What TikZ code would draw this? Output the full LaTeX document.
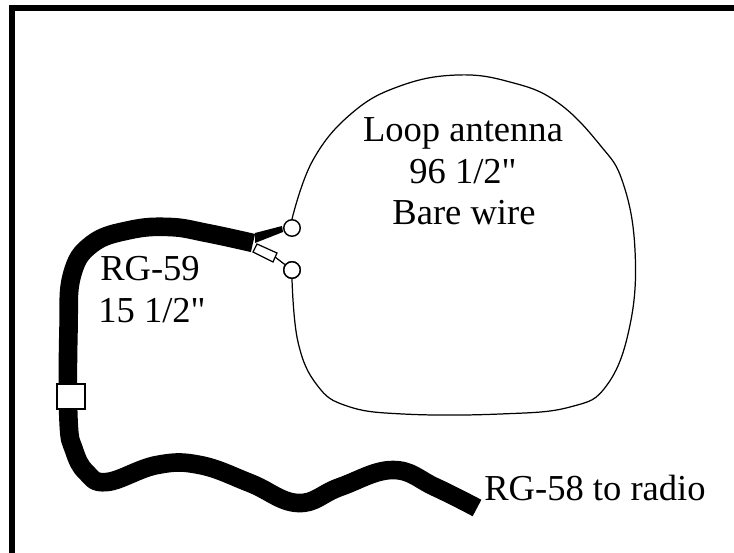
\documentclass[tikz,border=0pt]{standalone}
\usepackage{fontspec}
\newfontfamily\labelfont{Liberation Serif}
\tikzset{
  labeltext/.style={anchor=base, inner sep=0pt, font=\labelfont\fontsize{20.8}{24}\selectfont},
  terminal/.style={circle, draw, line width=0.8pt, fill=white, minimum size=9.4pt, inner sep=0pt},
  coax/.style={line width=10.6pt, line join=round},
  antenna/.style={line width=0.7pt}
}
\begin{document}
\begin{tikzpicture}[x=0.02cm, y=-0.02cm]
  \useasboundingbox (0,0) rectangle (734,552);

  % frame
  \draw[line width=3.4pt] (12,600) -- (12,8) -- (800,8);

  % terminals and cable ends
  \coordinate (coaxend) at (253,243);
  \coordinate (radioend) at (477,508);
  \node[terminal] (top) at (292,228) {};
  \node[terminal] (bot) at (292,270) {};

  % loop
  \draw[antenna] plot[smooth, tension=0.7] coordinates {(top.north) (313,160) (352,113) (400,86)
    (457,75) (510,82) (557,102) (600,145) (623,183) (635,250) (630,325) (607,385) (570,407)
    (500,414) (403,414) (347,406) (317,385) (298,342) (bot.south)};

  % cable
  \draw[coax] plot[smooth, tension=0.7] coordinates {(coaxend) (207,233) (170,227) (130,230)
    (92,244) (72,275) (68.5,330) (68.5,420) (74,450) (86,472) (107,482) (157,465) (200,465)
    (250,483) (298,503) (340,487) (393,470) (435,487) (radioend)};

  % tails
  \fill (255,233) -- (282,226) -- (283,232) -- (255,243) -- cycle;
  \draw[fill=white, line width=0.7pt] (257,244) -- (277,253) -- (273,262) -- (253,252) -- cycle;
  \draw[line width=0.7pt] (275,257) -- (bot);

  % connector
  \node[draw, line width=0.8pt, fill=white, minimum width=16pt, minimum height=14.2pt, inner sep=0pt] (joint) at (71,396.5) {};

  % labels
  \node[labeltext] (looplabel) at (463,141) {Loop antenna};
  \node[labeltext] (lenlabel) at (463,183) {96 1/2"};
  \node[labeltext] (barelabel) at (464,224) {Bare wire};
  \node[labeltext] (rglabel) at (150,280) {RG-59};
  \node[labeltext] (rglen) at (152,322) {15 1/2"};
  \node[labeltext] (radiolabel) at (595,500) {RG-58 to radio};

  % bottom terminal over its tail
  \node[terminal] at (bot) {};
\end{tikzpicture}
\end{document}
